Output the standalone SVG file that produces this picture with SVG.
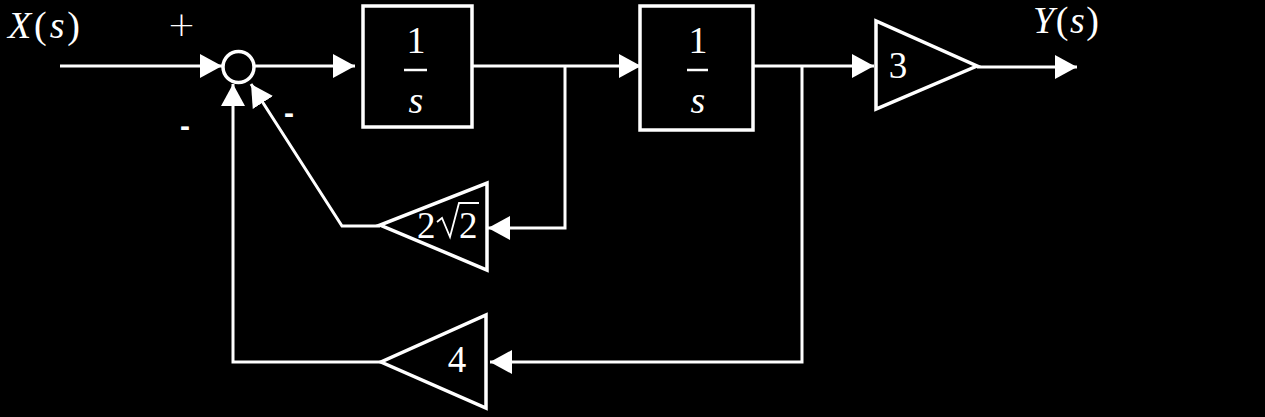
<svg xmlns="http://www.w3.org/2000/svg" width="1265" height="417" viewBox="0 0 1265 417">
<style>
.ln{fill:none;stroke:#fff;stroke-width:3;stroke-linejoin:miter}
.ln2{fill:none;stroke:#fff;stroke-width:3}
.blk{fill:#000;stroke:#fff;stroke-width:3.5}
.t{fill:#fff;font-family:"Liberation Serif","Times New Roman",serif;font-size:38px}
.it{font-style:italic}
.g{fill:#fff;font-family:"Liberation Serif","Times New Roman",serif;font-size:37px}
.s{fill:#fff;font-family:"Liberation Sans",Arial,sans-serif;font-size:30px;font-weight:bold}
.p{fill:#fff;font-family:"DejaVu Sans",sans-serif;font-size:34px;font-weight:200}
</style>
<defs>
<marker id="ah" markerUnits="userSpaceOnUse" markerWidth="22" markerHeight="24" viewBox="0 0 22 24" refX="22" refY="12" orient="auto">
<path d="M0,0 L22,12 L0,24 z" fill="#fff"/>
</marker>
</defs>
<rect width="1265" height="417" fill="#000"/>

<g id="connectors">
<line class="ln2" x1="60" y1="66" x2="222" y2="66" marker-end="url(#ah)"/>
<line class="ln2" x1="254" y1="66" x2="355" y2="66" marker-end="url(#ah)"/>
<line class="ln2" x1="472" y1="66" x2="641" y2="66" marker-end="url(#ah)"/>
<line class="ln2" x1="753" y1="66" x2="874" y2="66" marker-end="url(#ah)"/>
<line class="ln2" x1="977" y1="67" x2="1077" y2="67" marker-end="url(#ah)"/>
<polyline class="ln" points="565,66 565,228 488,228" marker-end="url(#ah)"/>
<polyline class="ln" points="802,66 802,362 490,362" marker-end="url(#ah)"/>
<polyline class="ln" points="381,362 233,362 233,84" marker-end="url(#ah)"/>
<polyline class="ln" points="380,226 342,226 251,84" marker-end="url(#ah)"/>
</g>

<g id="sum">
<circle cx="238.5" cy="67" r="15.5" fill="none" stroke="#fff" stroke-width="3.5"/>
<text class="p" x="181.5" y="36" text-anchor="middle">+</text>
<text class="s" x="185" y="136" text-anchor="middle">-</text>
<text class="s" x="289" y="123" text-anchor="middle">-</text>
</g>

<g id="input">
<text class="t" x="8" y="38" textLength="72" lengthAdjust="spacing"><tspan class="it">X</tspan>(<tspan class="it">s</tspan>)</text>
</g>

<g id="output">
<text class="t" x="1033" y="33" textLength="66" lengthAdjust="spacing"><tspan class="it">Y</tspan>(<tspan class="it">s</tspan>)</text>
</g>

<g id="int1">
<rect class="blk" x="363" y="6" width="109" height="121"/>
<text class="t" x="416" y="53" text-anchor="middle">1</text>
<line x1="404" y1="70" x2="427" y2="70" stroke="#fff" stroke-width="2.5"/>
<text class="t it" x="416" y="113" text-anchor="middle">s</text>
</g>

<g id="int2">
<rect class="blk" x="640" y="6" width="113" height="124"/>
<text class="t" x="698" y="53" text-anchor="middle">1</text>
<line x1="687" y1="70" x2="708" y2="70" stroke="#fff" stroke-width="2.5"/>
<text class="t it" x="698" y="113" text-anchor="middle">s</text>
</g>

<g id="gain3">
<polygon class="blk" points="876,21 876,109 977,66"/>
<text class="g" x="898" y="78" text-anchor="middle">3</text>
</g>

<g id="gain2r2">
<polygon class="blk" points="487,183 487,270 380,225"/>
<text class="g" x="417" y="238">2</text>
<polyline points="437,222 442,218 450,237 459,203 479,203" fill="none" stroke="#fff" stroke-width="1.8"/>
<text class="g" x="459" y="238">2</text>
</g>

<g id="gain4">
<polygon class="blk" points="486,315 486,408 381,362"/>
<text class="g" x="457" y="372" text-anchor="middle">4</text>
</g>
</svg>
